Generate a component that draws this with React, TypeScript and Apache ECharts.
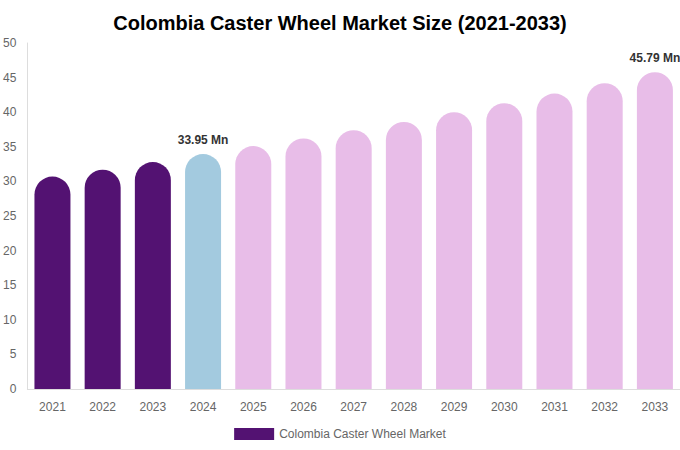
import * as echarts from 'echarts';
import React, { useEffect, useRef } from 'react';

const years = ['2021', '2022', '2023', '2024', '2025', '2026', '2027', '2028', '2029', '2030', '2031', '2032', '2033'];
const marketSize = [30.7, 31.7, 32.8, 33.95, 35.1, 36.2, 37.4, 38.6, 40.0, 41.3, 42.7, 44.2, 45.79];
const labelledYears = ['2024', '2033'];

const HISTORY = '#531272';
const BASE = '#a3cadf';
const FORECAST = '#e8bde8';

const colorFor = (year: string) => {
  const y = Number(year);
  if (y < 2024) return HISTORY;
  if (y === 2024) return BASE;
  return FORECAST;
};

const App: React.FC = () => {
  const chartRef = useRef<HTMLDivElement>(null);

  useEffect(() => {
    document.body.style.margin = '0';
    let chart: echarts.ECharts | undefined;
    if (chartRef.current) {
      chart = echarts.init(chartRef.current, undefined, { renderer: 'svg' });

      const option: echarts.EChartsOption = {
        animation: false,
        backgroundColor: '#fff',
        textStyle: { fontFamily: '"Liberation Sans", Arial, sans-serif' },
        title: {
          text: 'Colombia Caster Wheel Market Size (2021-2033)',
          left: 'center',
          top: 8,
          textStyle: { fontSize: 20, fontWeight: 'bold', color: '#000' },
        },
        legend: {
          bottom: 5,
          left: 'center',
          icon: 'rect',
          itemWidth: 40,
          itemHeight: 12,
          itemGap: 10,
          textStyle: { color: '#666', fontSize: 12 },
          data: [{ name: 'Colombia Caster Wheel Market', itemStyle: { color: HISTORY } }],
        },
        grid: { left: 27, right: 0, top: 43, bottom: 61, containLabel: false },
        xAxis: {
          type: 'category',
          data: years,
          axisLine: { lineStyle: { color: '#ddd' } },
          axisTick: { show: false },
          axisLabel: { color: '#666', fontSize: 12, margin: 12 },
        },
        yAxis: {
          type: 'value',
          min: 0,
          max: 50,
          interval: 5,
          axisLine: { show: true, lineStyle: { color: '#ddd' } },
          axisTick: { show: false },
          splitLine: { show: false },
          axisLabel: { color: '#666', fontSize: 12, margin: 11 },
        },
        series: [
          {
            name: 'Colombia Caster Wheel Market',
            type: 'bar',
            barWidth: 36,
            itemStyle: { color: HISTORY },
            data: marketSize.map((v, i) => ({
              value: v,
              itemStyle: { color: colorFor(years[i]), borderRadius: [18, 18, 0, 0] },
              label: {
                show: labelledYears.includes(years[i]),
                position: 'top',
                distance: 8,
                fontSize: 12,
                fontWeight: 'bold',
                color: '#333',
                formatter: (p: any) => `${p.value} Mn`,
              },
            })),
          },
        ],
      };

      chart.setOption(option);
    }
    return () => {
      chart?.dispose();
    };
  }, []);

  return <div ref={chartRef} style={{ width: '680px', height: '450px' }} />;
};

export default App;
